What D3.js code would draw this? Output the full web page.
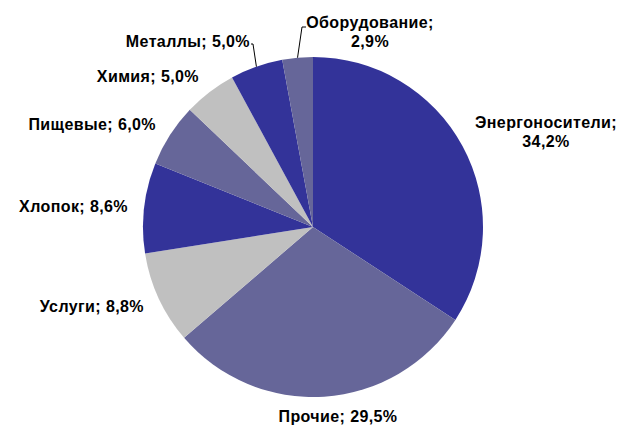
<!DOCTYPE html>
<html><head><meta charset="utf-8">
<script src="https://cdn.jsdelivr.net/npm/d3@7"></script>
<style>html,body{margin:0;padding:0;background:#fff;}svg{display:block;}</style>
</head><body>
<svg id="c" width="625" height="439"></svg>
<script>
const categories = ["Энергоносители", "Прочие", "Услуги", "Хлопок", "Пищевые", "Химия", "Металлы", "Оборудование"];
const values = [34.2, 29.5, 8.8, 8.6, 6.0, 5.0, 5.0, 2.9];
const valueLabels = ["34,2%", "29,5%", "8,8%", "8,6%", "6,0%", "5,0%", "5,0%", "2,9%"];

// layout (not data)
const cx = 313, cy = 227, R = 170;
const colors = ["#333399", "#666699", "#C0C0C0", "#333399", "#666699", "#C0C0C0", "#333399", "#666699"];
const labelLayout = [
  {x: 546, y: 128, anchor: "middle", two: true},
  {x: 338, y: 422, anchor: "middle", two: false},
  {x: 144, y: 312, anchor: "end", two: false},
  {x: 128, y: 212, anchor: "end", two: false},
  {x: 156, y: 130, anchor: "end", two: false},
  {x: 199, y: 82, anchor: "end", two: false},
  {x: 250, y: 47, anchor: "end", two: false},
  {x: 370, y: 28, anchor: "middle", two: true}
];

const svg = d3.select("#c");
const g = svg.append("g").attr("transform", `translate(${cx},${cy})`);
const data = categories.map((c, i) => ({cat: c, v: values[i], lab: valueLabels[i], i}));
const pie = d3.pie().value(d => d.v).sort(null);
const arc = d3.arc().innerRadius(0).outerRadius(R);
const arcs = pie(data);

g.selectAll("path").data(arcs).enter().append("path")
  .attr("d", arc)
  .attr("fill", d => colors[d.data.i]);

function edgePt(a) {
  const ang = (a.startAngle + a.endAngle) / 2;
  return [cx + Math.sin(ang) * R, cy - Math.cos(ang) * R];
}
const m = arcs[6], o = arcs[7];
const pm = edgePt(m), po = edgePt(o);
svg.append("path")
  .attr("d", `M${labelLayout[6].x + 1},${labelLayout[6].y - 3}L${labelLayout[6].x + 3},${labelLayout[6].y - 3}L${pm[0]},${pm[1]}`)
  .attr("fill", "none").attr("stroke", "#000").attr("stroke-width", 1);
svg.append("path")
  .attr("d", `M${306},${labelLayout[7].y - 1}L${302},${labelLayout[7].y - 1}L${po[0]},${po[1]}`)
  .attr("fill", "none").attr("stroke", "#000").attr("stroke-width", 1);

const texts = svg.append("g")
  .attr("font-family", "Arial, 'Liberation Sans', sans-serif")
  .attr("font-weight", "bold").attr("font-size", 16).attr("letter-spacing", 0.4).attr("fill", "#000");
arcs.forEach((a, i) => {
  const L = labelLayout[i];
  const t = texts.append("text").attr("text-anchor", L.anchor).attr("x", L.x).attr("y", L.y);
  if (L.two) {
    t.append("tspan").attr("x", L.x).attr("y", L.y).text(a.data.cat + ";");
    t.append("tspan").attr("x", L.x).attr("y", L.y + 19).text(a.data.lab);
  } else {
    t.text(a.data.cat + "; " + a.data.lab);
  }
});
</script>
</body></html>
